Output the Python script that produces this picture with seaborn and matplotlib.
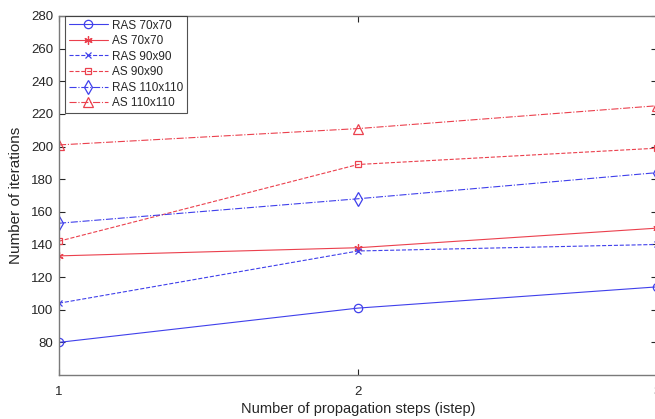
import matplotlib
matplotlib.use("Agg")
import matplotlib.pyplot as plt
import seaborn as sns
import pandas as pd

steps = [1, 2, 3]
ras_70 = [80, 101, 114]
as_70 = [133, 138, 150]
ras_90 = [104, 136, 140]
as_90 = [142, 189, 199]
ras_110 = [153, 168, 184]
as_110 = [201, 211, 225]
labels = ["RAS 70x70", "AS 70x70", "RAS 90x90", "AS 90x90", "RAS 110x110", "AS 110x110"]
series = [ras_70, as_70, ras_90, as_90, ras_110, as_110]

sns.set_style("white")
plt.rcParams['font.family'] = ['Liberation Sans', 'DejaVu Sans']

blue = (0.25, 0.25, 0.92)
red = (0.92, 0.25, 0.30)
styles = [
    dict(color=blue, ls='-', marker='o', ms=6),
    dict(color=red, ls='-', marker=(6, 2, 0), ms=6),
    dict(color=blue, ls='--', marker='x', ms=5),
    dict(color=red, ls='--', marker='s', ms=5),
    dict(color=blue, ls='-.', marker='d', ms=7),
    dict(color=red, ls='-.', marker='^', ms=7),
]

fig = plt.figure(figsize=(6.55, 4.19), dpi=100)
ax = fig.add_axes([59/655, 1 - 375/419, 598/655, (375 - 16)/419])

for lab, vals, st in zip(labels, series, styles):
    df = pd.DataFrame({"step": steps, "iters": vals})
    sns.lineplot(data=df, x="step", y="iters", ax=ax, label=lab,
                 color=st['color'], linestyle=st['ls'], marker=st['marker'],
                 markersize=st['ms'], markerfacecolor='none', markeredgecolor=st['color'],
                 markeredgewidth=0.9, linewidth=0.8)

ax.set_xlim(1, 3)
ax.set_ylim(60, 280)
ax.set_xticks([1, 2, 3])
ax.set_yticks(range(80, 281, 20))
ax.tick_params(direction='in', length=4, width=0.8, colors='#262626',
               labelsize=9.5, top=True, right=True, left=True, bottom=True, pad=4)
ax.tick_params(axis='x', pad=8)
for s in ax.spines.values():
    s.set_color('#7a7a7a')
    s.set_linewidth(1.0)
    s.set_visible(True)

ax.set_xlabel("Number of propagation steps (istep)", fontsize=10.5, color='#262626', labelpad=3)
ax.set_ylabel("Number of iterations", fontsize=11, color='#262626', labelpad=6)

leg = ax.legend(loc='upper left', bbox_to_anchor=(6/598, 1.0), borderaxespad=0,
                fontsize=8.5, frameon=True, fancybox=False,
                handlelength=3.3, borderpad=0.3, labelspacing=0.3,
                handletextpad=0.4)
leg.get_frame().set_edgecolor('#262626')
leg.get_frame().set_linewidth(0.8)

fig.savefig("out.png", dpi=100)
